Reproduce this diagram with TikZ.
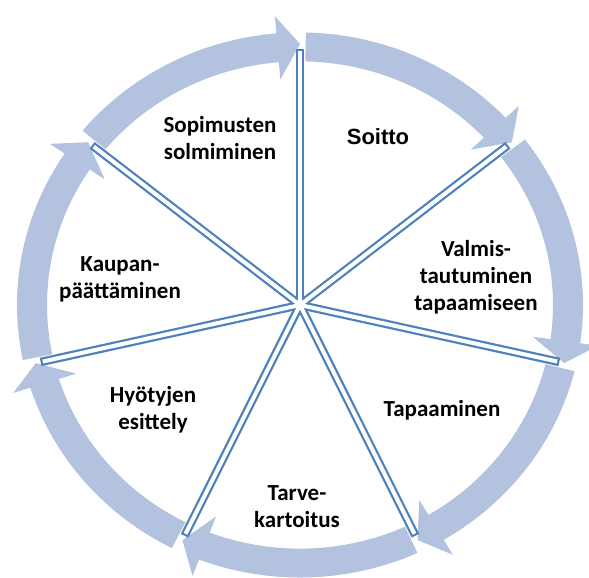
\documentclass[tikz,border=0pt]{standalone}
\usepackage{fontspec}
\newfontfamily\carlito{Carlito}
\newfontfamily\liber{Liberation Sans}
\definecolor{ringc}{RGB}{178,194,223}
\definecolor{sepc}{RGB}{79,129,189}
\begin{document}
\begin{tikzpicture}[x=1pt,y=1pt,
  lbl/.style={font=\carlito\bfseries\fontsize{23}{27}\selectfont, align=center, text=black, inner sep=0pt},
  sepout/.style={sepc, line width=8.5pt},
  sepin/.style={white, line width=4pt, shorten >=2.2pt}]
\useasboundingbox (0,0) rectangle (589,578);
\begin{scope}[shift={(300,273)}, yscale=0.963]
\foreach \k in {0,...,6}{
  \pgfmathsetmacro\ts{90-\k*360/7-1.2}
  \pgfmathsetmacro\te{90-(\k+1)*360/7}
  \pgfmathsetmacro\tb{\te+4.8}
  \fill[ringc] (\ts:283) arc[start angle=\ts, end angle=\tb, radius=283] -- (\tb:301) -- (\te:271) -- (\tb:235) -- (\tb:253) arc[start angle=\tb, end angle=\ts, radius=253] -- cycle;
}
\coordinate (c) at (0,0);
\foreach \k in {0,...,6}{ \coordinate (s\k) at ({90-\k*360/7}:266); }
\foreach \k in {0,...,6}{ \draw[sepout] (c) -- (s\k); }
\foreach \k in {0,...,6}{ \draw[sepin] (c) -- (s\k); }
\end{scope}
\node[lbl] (t1) at (220,440) {Sopimusten\\solmiminen};
\node[font=\liber\bfseries\fontsize{22}{26}\selectfont, inner sep=0pt] (t2) at (378,441) {Soitto};
\node[lbl] (t3) at (476,301) {Valmis-\\tautuminen\\tapaamiseen};
\node[lbl] (t4) at (442,168) {Tapaaminen};
\node[lbl] (t5) at (297,71) {Tarve-\\kartoitus};
\node[lbl] (t6) at (153,168) {Hyötyjen\\esittely};
\node[lbl] (t7) at (120,299) {Kaupan-\\päättäminen};
\end{tikzpicture}
\end{document}
